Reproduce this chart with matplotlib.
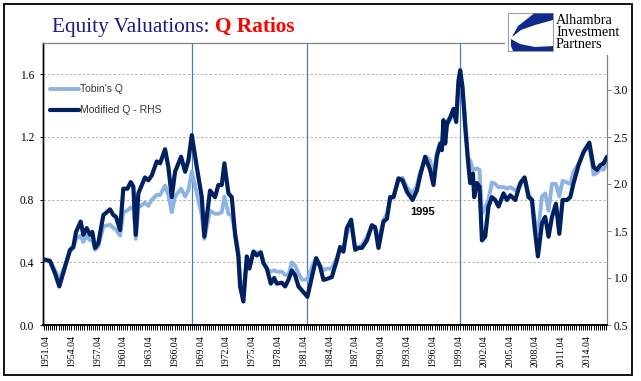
"""
Equity Valuations: Q Ratios - Tobin's Q vs Modified Q (RHS).
"""
import matplotlib
matplotlib.use("Agg")
import matplotlib.pyplot as plt
from matplotlib.patches import Rectangle, Polygon
from matplotlib.ticker import MultipleLocator

plt.rcParams["font.family"] = ["Liberation Serif", "DejaVu Serif"]

# -------------------------------------------------------
# data
# -------------------------------------------------------
years = [
    1951.47, 1952.25, 1952.83, 1953.33, 1954.00, 1954.58, 1954.96, 1955.28, 1955.82, 1956.13,
    1956.52, 1956.91, 1957.17, 1957.49, 1957.87, 1958.46, 1959.24, 1959.62, 1959.93, 1960.40,
    1960.78, 1961.25, 1961.65, 1961.95, 1962.23, 1962.53, 1963.30, 1963.69, 1964.09, 1964.67,
    1965.06, 1965.64, 1966.02, 1966.42, 1966.80, 1967.50, 1967.97, 1968.35, 1968.75, 1969.33,
    1969.91, 1970.21, 1970.87, 1971.45, 1971.84, 1972.24, 1972.54, 1973.01, 1973.40, 1973.79,
    1974.17, 1974.37, 1974.75, 1975.15, 1975.45, 1975.92, 1976.31, 1976.78, 1977.08, 1977.48,
    1977.94, 1978.33, 1978.64, 1979.22, 1979.61, 1979.99, 1980.39, 1980.77, 1981.16, 1981.55,
    1982.20, 1982.72, 1983.22, 1983.68, 1984.07, 1984.46, 1985.04, 1985.63, 1986.01, 1986.39,
    1986.79, 1987.29, 1987.76, 1988.14, 1988.54, 1989.12, 1989.70, 1990.08, 1990.47, 1991.05,
    1991.45, 1991.83, 1992.22, 1992.80, 1993.26, 1993.77, 1994.43, 1994.94, 1995.32, 1995.90,
    1996.10, 1996.48, 1996.87, 1997.26, 1997.65, 1997.85, 1998.03, 1998.23, 1998.43, 1998.82,
    1999.20, 1999.51, 1999.78, 1999.98, 2000.25, 2000.56, 2000.88, 2001.14, 2001.46, 2001.61,
    2001.92, 2002.23, 2002.51, 2002.89, 2003.27, 2003.67, 2004.05, 2004.44, 2005.02, 2005.42,
    2005.80, 2006.39, 2006.97, 2007.47, 2007.93, 2008.33, 2008.63, 2009.02, 2009.49, 2009.87,
    2010.26, 2010.66, 2011.12, 2011.51, 2011.89, 2012.40, 2012.79, 2013.17, 2013.75, 2014.33,
    2015.00, 2015.50, 2015.89, 2016.27, 2016.66, 2017.06,
]
tobin_q = [
    0.42, 0.41, 0.35, 0.29, 0.38, 0.47, 0.49, 0.55, 0.57, 0.53,
    0.57, 0.54, 0.55, 0.48, 0.50, 0.63, 0.64, 0.62, 0.61, 0.57,
    0.72, 0.73, 0.75, 0.75, 0.55, 0.75, 0.78, 0.76, 0.80, 0.83,
    0.83, 0.89, 0.83, 0.72, 0.82, 0.87, 0.82, 0.86, 0.98, 0.84,
    0.70, 0.55, 0.73, 0.71, 0.71, 0.72, 0.82, 0.71, 0.70, 0.59,
    0.47, 0.29, 0.22, 0.41, 0.38, 0.47, 0.46, 0.47, 0.40, 0.36,
    0.34, 0.35, 0.34, 0.34, 0.32, 0.32, 0.40, 0.38, 0.33, 0.29,
    0.29, 0.37, 0.43, 0.38, 0.35, 0.36, 0.36, 0.43, 0.49, 0.48,
    0.58, 0.64, 0.49, 0.50, 0.51, 0.56, 0.64, 0.62, 0.54, 0.67,
    0.71, 0.80, 0.82, 0.92, 0.94, 0.88, 0.84, 0.89, 0.98, 1.05,
    1.07, 1.05, 0.95, 1.10, 1.16, 1.15, 1.24, 1.16, 1.27, 1.31,
    1.35, 1.32, 1.53, 1.56, 1.48, 1.33, 1.07, 1.05, 0.99, 0.99,
    1.00, 0.99, 0.71, 0.75, 0.80, 0.91, 0.90, 0.88, 0.88, 0.87,
    0.88, 0.86, 0.89, 0.94, 0.84, 0.80, 0.67, 0.58, 0.82, 0.84,
    0.73, 0.90, 0.90, 0.82, 0.92, 0.91, 0.90, 0.98, 1.03, 1.10,
    1.14, 0.96, 0.97, 1.00, 0.99, 1.04,
]
modified_q = [
    1.20, 1.18, 1.05, 0.91, 1.12, 1.30, 1.33, 1.49, 1.60, 1.46,
    1.53, 1.46, 1.49, 1.32, 1.37, 1.67, 1.73, 1.67, 1.65, 1.51,
    1.95, 1.95, 2.02, 1.97, 1.46, 1.90, 2.07, 2.04, 2.09, 2.24,
    2.22, 2.37, 2.18, 1.86, 2.13, 2.29, 2.13, 2.25, 2.52, 2.18,
    1.86, 1.44, 1.93, 1.86, 1.99, 1.99, 2.22, 1.90, 1.86, 1.46,
    1.23, 0.91, 0.75, 1.23, 1.10, 1.28, 1.24, 1.27, 1.16, 1.10,
    0.94, 1.00, 0.94, 0.95, 0.91, 0.98, 1.08, 1.03, 0.91, 0.87,
    0.80, 1.01, 1.21, 1.12, 0.98, 0.99, 1.01, 1.19, 1.33, 1.28,
    1.53, 1.62, 1.30, 1.32, 1.32, 1.40, 1.56, 1.54, 1.32, 1.60,
    1.63, 1.86, 1.86, 2.06, 2.04, 1.92, 1.83, 1.93, 2.09, 2.29,
    2.24, 2.15, 1.99, 2.29, 2.43, 2.36, 2.68, 2.43, 2.64, 2.71,
    2.80, 2.66, 3.10, 3.21, 3.03, 2.61, 2.25, 2.01, 2.11, 1.86,
    2.01, 1.97, 1.40, 1.44, 1.76, 1.86, 1.83, 1.76, 1.90, 1.83,
    1.88, 1.83, 2.01, 2.07, 1.86, 1.83, 1.54, 1.23, 1.58, 1.65,
    1.44, 1.65, 1.79, 1.47, 1.83, 1.83, 1.86, 2.01, 2.20, 2.34,
    2.44, 2.18, 2.15, 2.20, 2.22, 2.29,
]

vline_years = [1968.75, 1982.20, 1999.98]
label_years = list(range(1951, 2015, 3))  # labels "YYYY.04"

W, H = 641, 381


def px(x, y):
    # pixel position -> figure fraction (for the decorations only)
    return x / W, 1 - y / H


fig = plt.figure(figsize=(W / 100, H / 100), dpi=100)
ax = fig.add_axes([43.3 / W, 1 - 325 / H, (607 - 43.3) / W, (325 - 43) / H])
ax2 = ax.twinx()

l1, = ax.plot(years, tobin_q, color="#8db3e2", lw=2.8, solid_capstyle="round",
              label="Tobin's Q", zorder=3)
l2, = ax2.plot(years, modified_q, color="#002060", lw=3.0, solid_capstyle="round",
               label="Modified Q - RHS", zorder=3)

for v in vline_years:
    ax.axvline(v, color="#4a7ebb", lw=0.9, zorder=1)

# axes
ax.set_xlim(years[0], years[-1])
ax.set_ylim(0, 1.8)
ax2.set_ylim(0.5, 3.5)
ax.set_yticks([0.0, 0.4, 0.8, 1.2, 1.6])
ax.set_yticklabels(["0.0", "0.4", "0.8", "1.2", "1.6"])
ax2.set_yticks([0.5, 1.0, 1.5, 2.0, 2.5, 3.0])
ax2.set_yticklabels(["0.5", "1.0", "1.5", "2.0", "2.5", "3.0"])
ax.set_xticks([y + 0.75 for y in label_years])
ax.set_xticklabels([f"{y}.04" for y in label_years], rotation=90)
ax.xaxis.set_minor_locator(MultipleLocator(0.25))

ax.grid(axis="y", color="#b4b4b4", ls=(0, (2.5, 2)), lw=0.7)
ax.set_axisbelow(True)

ax.tick_params(axis="x", which="both", direction="out", length=3.5, width=0.7,
               color="black", labelsize=7, pad=4)
ax.tick_params(axis="y", direction="out", length=2.5, width=0.7, labelsize=8.3, pad=4)
ax2.tick_params(axis="y", direction="out", length=3, width=0.7, color="#808080",
                labelsize=8.3, pad=1.5)

for a in (ax, ax2):
    a.spines["left"].set_color("black")
    a.spines["bottom"].set_color("black")
    a.spines["bottom"].set_linewidth(1.2)
    a.spines["left"].set_linewidth(1.0)
    a.spines["top"].set_color("#808080")
    a.spines["right"].set_color("#808080")

leg = ax2.legend(handles=[l1, l2], loc="upper left", bbox_to_anchor=(0.0, 0.875),
                 frameon=False, handlelength=2.8, handletextpad=0.1,
                 labelspacing=1.05, borderaxespad=0.2,
                 prop={"family": "Liberation Sans", "size": 7.5})
for t in leg.get_texts():
    t.set_color("#333333")

ax.text(1995.56, 0.72, "1995", ha="center", va="center", fontsize=8,
        fontweight="bold", family="Liberation Sans", color="black", zorder=5)

# title (two colours, red part placed right after the blue part)
x0, y0 = px(52, 31.7)
t1 = fig.text(x0, y0, "Equity Valuations: ", color="#1a1a80", fontsize=15.3,
              va="baseline", ha="left")
t2 = fig.text(x0, y0, "Q Ratios", color="#ff0000", fontsize=15.3, fontweight="bold",
              va="baseline", ha="left")
fig.canvas.draw()
bb = t1.get_window_extent()
t2.set_position((bb.x1 / fig.bbox.width, y0))

# logo area
cover = Rectangle(px(505, 55), (631 - 505) / W, (55 - 6) / H,
                  transform=fig.transFigure, facecolor="white", edgecolor="none",
                  zorder=5)
fig.add_artist(cover)
bx0, by0 = px(508, 51)
fig.add_artist(Rectangle((bx0, by0), 45 / W, 38 / H, transform=fig.transFigure,
                         facecolor="white", edgecolor="#a0a0a0", lw=0.8, zorder=6))
upper = [px(534, 13.5), px(553, 13.5), px(553, 20), px(535, 25), px(521, 30),
         px(512, 37), px(518, 26)]
lower = [px(511, 39), px(520, 44), px(535, 47), px(553, 46), px(553, 51),
         px(513, 51), px(511, 46)]
for poly in (upper, lower):
    fig.add_artist(Polygon(poly, closed=True, transform=fig.transFigure,
                           facecolor="#0f2a8c", edgecolor="none", zorder=7))
for txt, base in (("Alhambra", 24.5), ("Investment", 36), ("Partners", 47.5)):
    fig.text(*px(556, base), txt, fontsize=10.3, va="baseline", ha="left",
             color="black", zorder=7)

# outer border
fig.add_artist(Rectangle(px(4, 375), 628 / W, 371 / H, transform=fig.transFigure,
                         facecolor="none", edgecolor="black", lw=1.3, zorder=10))

fig.savefig("out.png", dpi=100)
